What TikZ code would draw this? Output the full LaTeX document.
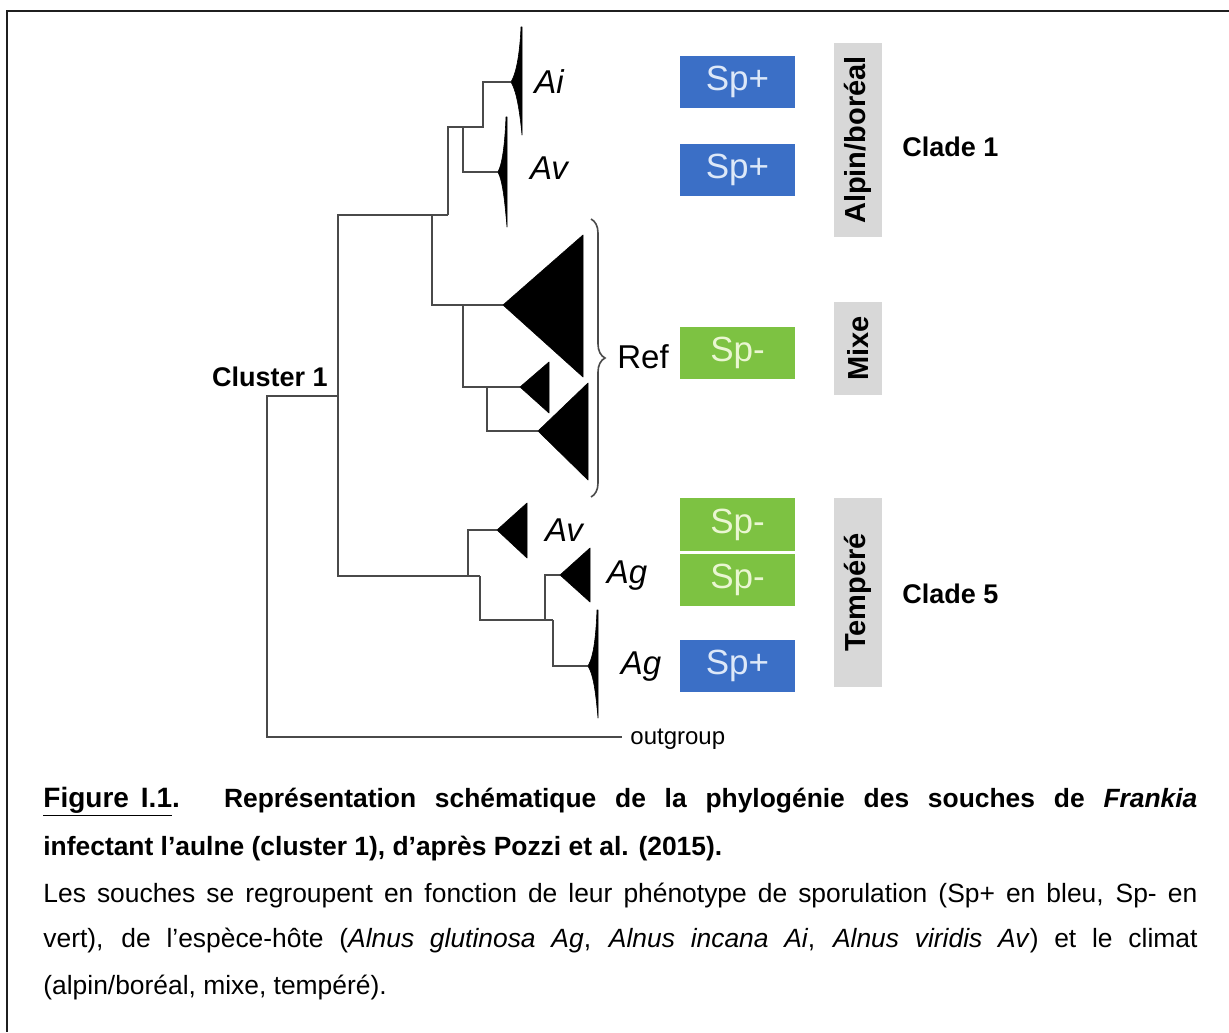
\documentclass[tikz,border=0pt]{standalone}
\usepackage{fontspec}
\setmainfont{Liberation Sans}
\usetikzlibrary{decorations.pathreplacing}
\definecolor{spblue}{HTML}{3B6FC6}
\definecolor{spgreen}{HTML}{7DC242}
\definecolor{greybar}{HTML}{D8D8D8}
\definecolor{branch}{HTML}{4A4A4A}
\definecolor{bluetext}{HTML}{DDE8F8}
\definecolor{greentext}{HTML}{EAF6D2}
\begin{document}
\begin{tikzpicture}[x=0.5pt,y=-0.5pt,
  branchline/.style={draw=branch,line width=1pt,line join=miter},
  cladetri/.style={fill=black,draw=black,line width=0.3pt,line join=round},
  taxon/.style={font=\fontsize{16.5}{18}\selectfont\itshape,inner sep=0},
  spbox/.style={minimum width=57.5pt,minimum height=26pt,inner sep=0,font=\fontsize{17.5}{18}\selectfont},
  spplus/.style={spbox,fill=spblue,text=bluetext},
  spminus/.style={spbox,fill=spgreen,text=greentext},
  climbar/.style={fill=greybar,rotate=90,minimum height=24pt,inner sep=0,font=\fontsize{14.5}{16}\selectfont\bfseries},
  boldlabel/.style={font=\fontsize{13.5}{15}\selectfont\bfseries,inner sep=0},
  capline/.style={anchor=base west,inner sep=0,font=\fontsize{13.2}{15}\selectfont}]
\useasboundingbox (0,0) rectangle (1229,1032);
\fill[white] (0,0) rectangle (1229,1032);
% frame
\draw[line width=1.3pt,draw=black!88] (1229,11) -- (7,11) -- (7,1032);

% tree coordinates (clade apexes)
\coordinate (ai) at (511,82);
\coordinate (av) at (498,172);
\coordinate (big) at (503,305);
\coordinate (small) at (520,387);
\coordinate (third) at (538,431);
\coordinate (av2) at (497,530);
\coordinate (ag) at (560,575);
\coordinate (ag2) at (588,666);
\coordinate (og) at (622,737);

% branches
\draw[branchline] (448,215) -- (448,127) -- (483,127) -- (483,82) -- (ai);
\draw[branchline] (463,127) -- (463,172) -- (av);
\draw[branchline] (448,215) -- (338,215) -- (338,576) -- (480,576);
\draw[branchline] (432,215) -- (432,305) -- (big);
\draw[branchline] (463,305) -- (463,387) -- (small);
\draw[branchline] (487,387) -- (487,431) -- (third);
\draw[branchline] (468,576) -- (468,530) -- (av2);
\draw[branchline] (480,576) -- (480,620) -- (553,620);
\draw[branchline] (545,620) -- (545,575) -- (ag);
\draw[branchline] (553,620) -- (553,666) -- (ag2);
\draw[branchline] (338,396) -- (267,396) -- (267,737) -- (og);

% collapsed clades (thin ones slightly concave)
\fill[cladetri] (ai) .. controls (517,72) and (520,50) .. (521,27) -- (522,27) -- (522,135) .. controls (520,114) and (517,92) .. (ai) -- cycle;
\fill[cladetri] (av) .. controls (503,162) and (505,140) .. (506,117) -- (507,117) -- (507,227) .. controls (505,204) and (503,182) .. (av) -- cycle;
\fill[cladetri] (big) -- (583,235) -- (583,377) -- cycle;
\fill[cladetri] (small) -- (549,362) -- (549,413) -- cycle;
\fill[cladetri] (third) -- (588,383) -- (588,480) -- cycle;
\fill[cladetri] (av2) -- (527,503) -- (527,558) -- cycle;
\fill[cladetri] (ag) -- (590,548) -- (590,602) -- cycle;
\fill[cladetri] (ag2) .. controls (594,656) and (596,634) .. (597,610) -- (598,610) -- (598,718) .. controls (596,696) and (594,676) .. (ag2) -- cycle;

% brace
\draw[branch,line width=0.8pt,decorate,decoration={brace,amplitude=7pt}] (591,219) -- (591,497);

% taxon labels
\node[taxon] (lai) at (549,82) {Ai};
\node[taxon] (lav) at (549,168) {Av};
\node[taxon,font=\fontsize{16.5}{18}\selectfont] (lref) at (643,357) {Ref};
\node[taxon] (lav2) at (564,530) {Av};
\node[taxon] (lag) at (627,576) {Ag};
\node[taxon] (lag2) at (641,667) {Ag};
\node[anchor=west,inner sep=0,font=\fontsize{12}{13}\selectfont] (lout) at (630,739) {outgroup};
\node[boldlabel] (lcluster) at (270,377) {Cluster 1};

% phenotype boxes
\node[spplus] (b1) at (737.5,82) {Sp+};
\node[spplus] (b2) at (737.5,170) {Sp+};
\node[spminus] (b3) at (737.5,352.5) {Sp-};
\node[spminus,minimum height=26.5pt] (b4) at (737.5,524.5) {Sp-};
\node[spminus] (b5) at (737.5,580) {Sp-};
\node[spplus] (b6) at (737.5,666) {Sp+};

% climate bars
\node[climbar,minimum width=97pt] (c1) at (858,140) {Alpin/boréal};
\node[climbar,minimum width=46.5pt] (c2) at (858,348.5) {Mixe};
\node[climbar,minimum width=94.5pt] (c3) at (858,592.5) {Tempéré};

% clade labels
\node[boldlabel,anchor=west] (cl1) at (902,147) {Clade 1};
\node[boldlabel,anchor=west] (cl5) at (902,594) {Clade 5};

% caption
\node[capline] (cap1) at (43,807) {\makebox[577pt][s]{{\fontsize{14}{16}\selectfont\bfseries\underline{Figure\hspace{6pt}I.1}.} \textbf{Représentation schématique de la phylogénie des souches de \textit{Frankia}}}};
\node[capline] (cap2) at (43,855) {\textbf{infectant l’aulne (cluster 1), d’après Pozzi et al. (2015).}};
\node[capline] (cap3) at (43,902) {\makebox[577pt][s]{Les souches se regroupent en fonction de leur phénotype de sporulation (Sp+ en bleu, Sp- en}};
\node[capline] (cap4) at (43,947) {\makebox[577pt][s]{vert), de l’espèce-hôte (\textit{Alnus glutinosa Ag}, \textit{Alnus incana Ai}, \textit{Alnus viridis Av}) et le climat}};
\node[capline] (cap5) at (43,994) {(alpin/boréal, mixe, tempéré).};
\end{tikzpicture}
\end{document}
